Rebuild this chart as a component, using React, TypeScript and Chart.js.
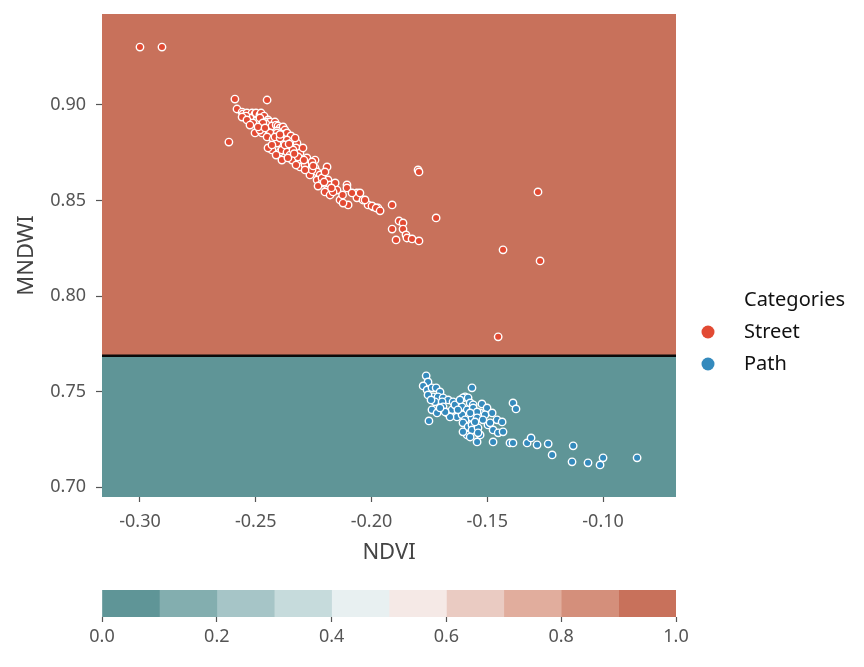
import React, { useEffect, useRef } from "react";
import { Chart, registerables } from "chart.js";

Chart.register(...registerables);

// ---------- data ----------
const streetPoints: [number, number][] = [
  [-0.3, 0.9303], [-0.2905, 0.9303], [-0.259, 0.9031], [-0.2451, 0.9026], [-0.2616, 0.8806],
  [-0.2581, 0.8979], [-0.2559, 0.8963], [-0.2555, 0.8953], [-0.2538, 0.8958], [-0.2516, 0.8958],
  [-0.2503, 0.8953], [-0.2499, 0.8958], [-0.2482, 0.8948], [-0.2477, 0.8958], [-0.2464, 0.8942],
  [-0.2482, 0.8932], [-0.2525, 0.8932], [-0.2542, 0.8942], [-0.2559, 0.8937], [-0.2538, 0.8922],
  [-0.2447, 0.8922], [-0.2451, 0.8911], [-0.2438, 0.8911], [-0.2417, 0.8911], [-0.2456, 0.8901],
  [-0.243, 0.889], [-0.2412, 0.8895], [-0.2404, 0.889], [-0.2512, 0.8906], [-0.2469, 0.8906],
  [-0.2503, 0.8854], [-0.2473, 0.8854], [-0.2482, 0.8869], [-0.2395, 0.888], [-0.2382, 0.8885],
  [-0.2374, 0.8869], [-0.2408, 0.8864], [-0.2438, 0.8854], [-0.2408, 0.8854], [-0.2382, 0.8848],
  [-0.2365, 0.8854], [-0.2348, 0.8838], [-0.2451, 0.8833], [-0.2425, 0.8822], [-0.2365, 0.8817],
  [-0.2391, 0.8801], [-0.2408, 0.8801], [-0.2343, 0.8806], [-0.2322, 0.8801], [-0.2352, 0.878],
  [-0.2326, 0.8775], [-0.243, 0.8765], [-0.2447, 0.8775], [-0.243, 0.8791], [-0.2395, 0.8754],
  [-0.2387, 0.8765], [-0.2365, 0.8754], [-0.2352, 0.8738], [-0.2309, 0.8749], [-0.2412, 0.8738],
  [-0.2387, 0.8712], [-0.2343, 0.8712], [-0.2309, 0.8702], [-0.2279, 0.8723], [-0.2274, 0.8686],
  [-0.2244, 0.8712], [-0.2244, 0.8671], [-0.2309, 0.8676], [-0.2235, 0.865], [-0.2192, 0.8676],
  [-0.2266, 0.8634], [-0.2222, 0.8634], [-0.2235, 0.8608], [-0.2188, 0.8608], [-0.2214, 0.8592],
  [-0.2179, 0.8582], [-0.2192, 0.8555], [-0.2201, 0.8545], [-0.2179, 0.8529], [-0.2149, 0.8555],
  [-0.2136, 0.8503], [-0.2106, 0.8582], [-0.2106, 0.8566], [-0.2063, 0.854], [-0.2063, 0.8514],
  [-0.2037, 0.8503], [-0.2015, 0.8477], [-0.1993, 0.8467], [-0.1972, 0.8461], [-0.2101, 0.8477],
  [-0.2123, 0.8487], [-0.205, 0.854], [-0.2028, 0.8503], [-0.1998, 0.8472], [-0.198, 0.8461],
  [-0.1963, 0.8446], [-0.1911, 0.8477], [-0.1799, 0.866], [-0.1795, 0.865], [-0.1881, 0.8393],
  [-0.1864, 0.8383], [-0.1911, 0.8351], [-0.1864, 0.8351], [-0.1851, 0.832], [-0.1847, 0.8304],
  [-0.1825, 0.8299], [-0.1894, 0.8294], [-0.1795, 0.8289], [-0.1721, 0.8409], [-0.1281, 0.8545],
  [-0.1432, 0.8242], [-0.1272, 0.8184], [-0.1453, 0.7787],
  [-0.2525, 0.8895], [-0.249, 0.8885], [-0.246, 0.888], [-0.2417, 0.8833], [-0.2395, 0.8827],
  [-0.2339, 0.8765], [-0.2317, 0.8728], [-0.2287, 0.8686], [-0.2257, 0.866], [-0.2214, 0.8618],
  [-0.2166, 0.8545], [-0.2287, 0.866], [-0.2374, 0.8791], [-0.2296, 0.8775], [-0.233, 0.8827],
  [-0.2257, 0.8702], [-0.2201, 0.865], [-0.2157, 0.8592], [-0.2084, 0.854], [-0.2231, 0.8576],
  [-0.2361, 0.8723], [-0.2326, 0.8686], [-0.2395, 0.8846], [-0.2356, 0.8796], [-0.2334, 0.8745],
  [-0.2292, 0.8712], [-0.2252, 0.8681], [-0.2205, 0.8597], [-0.2173, 0.8566], [-0.2125, 0.8529],
];

const pathPoints: [number, number][] = [
  [-0.1764, 0.7583], [-0.1756, 0.7551], [-0.1777, 0.753], [-0.176, 0.7509], [-0.1739, 0.752],
  [-0.1721, 0.752], [-0.1704, 0.7499], [-0.1734, 0.7473], [-0.1713, 0.7473], [-0.1691, 0.7468],
  [-0.1669, 0.7457], [-0.1648, 0.7447], [-0.1726, 0.7447], [-0.1695, 0.7447], [-0.1739, 0.7405],
  [-0.1717, 0.7389], [-0.1691, 0.7421], [-0.1674, 0.7389], [-0.1652, 0.7405], [-0.1631, 0.7368],
  [-0.1661, 0.7368], [-0.1752, 0.7347], [-0.1566, 0.752], [-0.1596, 0.7473], [-0.1605, 0.7468],
  [-0.1583, 0.7468], [-0.1574, 0.7441], [-0.1561, 0.7431], [-0.1609, 0.7421], [-0.1587, 0.7405],
  [-0.1561, 0.7415], [-0.1523, 0.7436], [-0.1501, 0.7415], [-0.1531, 0.7389], [-0.1544, 0.7394],
  [-0.1479, 0.7389], [-0.1609, 0.7379], [-0.1596, 0.7353], [-0.1566, 0.7363], [-0.1544, 0.7363],
  [-0.1605, 0.7337], [-0.1583, 0.7316], [-0.1566, 0.7326], [-0.1587, 0.7274], [-0.1566, 0.73],
  [-0.154, 0.7311], [-0.1531, 0.7274], [-0.1544, 0.7237], [-0.154, 0.7285], [-0.1605, 0.729],
  [-0.1497, 0.7326], [-0.1475, 0.73], [-0.1458, 0.7353], [-0.1436, 0.7342], [-0.1488, 0.7337],
  [-0.1453, 0.7285], [-0.1432, 0.729], [-0.1475, 0.7237], [-0.1389, 0.7441], [-0.1376, 0.741],
  [-0.1402, 0.7232], [-0.1389, 0.7232], [-0.1328, 0.7232], [-0.1311, 0.7258], [-0.1285, 0.7222],
  [-0.1237, 0.7227], [-0.122, 0.7169], [-0.1129, 0.7217], [-0.1134, 0.7133], [-0.1065, 0.7128],
  [-0.1, 0.7154], [-0.1013, 0.7117], [-0.0853, 0.7154],
  [-0.164, 0.7431], [-0.1627, 0.7405], [-0.1682, 0.7394], [-0.1704, 0.7415], [-0.1756, 0.7483],
  [-0.1743, 0.7457], [-0.1618, 0.7457], [-0.1574, 0.7389], [-0.1553, 0.7342], [-0.151, 0.7379],
  [-0.1519, 0.7353], [-0.1574, 0.7263],
];

const categoryLabels = ["Street", "Path"];
const categoryColors = ["#e24a33", "#348abd"];
const legendTitle = "Categories";
const xTitle = "NDVI";
const yTitle = "MNDWI";

// decision regions
const decisionBoundary = 0.7688; // MNDWI value where predicted class changes
const regionColors = { above: "#c8715b", below: "#5f9597" };

// colour bar
const colorbarEdges = [0, 0.1, 0.2, 0.3, 0.4, 0.5, 0.6, 0.7, 0.8, 0.9, 1.0];
const colorbarColors = [
  "#5f9597", "#83aeaf", "#a6c5c7", "#c6dbdc", "#e8f0f1",
  "#f5e9e6", "#eacbc2", "#e1ad9d", "#d48f7b", "#c8715b",
];

const xRange = [-0.3164, -0.0685];
const yRange = [0.6949, 0.9476];

const FONT = "'Noto Sans', 'DejaVu Sans', sans-serif";
const TICK_COLOR = "#555555";

export default function App() {
  const mainRef = useRef<HTMLCanvasElement | null>(null);
  const cbRef = useRef<HTMLCanvasElement | null>(null);

  useEffect(() => {
    if (!mainRef.current || !cbRef.current) return;

    const bgPlugin = {
      id: "regions",
      beforeDatasetsDraw(chart: any) {
        const { ctx, chartArea, scales } = chart;
        const yb = scales.y.getPixelForValue(decisionBoundary);
        ctx.save();
        ctx.fillStyle = regionColors.above;
        ctx.fillRect(chartArea.left, chartArea.top, chartArea.right - chartArea.left, yb - chartArea.top);
        ctx.fillStyle = regionColors.below;
        ctx.fillRect(chartArea.left, yb, chartArea.right - chartArea.left, chartArea.bottom - yb);
        ctx.strokeStyle = "#0a0a0a";
        ctx.lineWidth = 2.5;
        ctx.beginPath();
        ctx.moveTo(chartArea.left, yb);
        ctx.lineTo(chartArea.right, yb);
        ctx.stroke();
        ctx.restore();
      },
    };

    const legendPlugin = {
      id: "customLegend",
      afterDraw(chart: any) {
        const { ctx } = chart;
        ctx.save();
        ctx.textBaseline = "middle";
        ctx.textAlign = "left";
        ctx.fillStyle = "#111";
        ctx.font = `20px ${FONT}`;
        ctx.fillText(legendTitle, 744, 300);
        categoryLabels.forEach((lab, i) => {
          const cy = 332 + i * 32;
          ctx.beginPath();
          ctx.fillStyle = categoryColors[i];
          ctx.arc(708, cy, 6.5, 0, Math.PI * 2);
          ctx.fill();
          ctx.fillStyle = "#111";
          ctx.fillText(lab, 744, cy);
        });
        ctx.restore();
      },
    };

    const main = new Chart(mainRef.current, {
      type: "scatter",
      data: {
        datasets: [
          {
            label: categoryLabels[0],
            data: streetPoints.map(([x, y]) => ({ x, y })),
            backgroundColor: categoryColors[0],
            borderColor: "#ffffff",
            borderWidth: 1.4,
            pointRadius: 3.7,
            pointHoverRadius: 3.7,
          },
          {
            label: categoryLabels[1],
            data: pathPoints.map(([x, y]) => ({ x, y })),
            backgroundColor: categoryColors[1],
            borderColor: "#ffffff",
            borderWidth: 1.4,
            pointRadius: 3.7,
            pointHoverRadius: 3.7,
          },
        ],
      },
      options: {
        responsive: false,
        animation: false,
        events: [],
        layout: { padding: { left: 0, right: 188, top: 14, bottom: 100 } },
        plugins: { legend: { display: false }, tooltip: { enabled: false } },
        scales: {
          x: {
            type: "linear",
            min: xRange[0],
            max: xRange[1],
            border: { display: false },
            grid: { drawOnChartArea: false, tickLength: 5, tickColor: TICK_COLOR, tickWidth: 1.2 },
            ticks: {
              stepSize: 0.05,
              includeBounds: false,
              color: TICK_COLOR,
              font: { size: 18, family: FONT },
              padding: 9,
              callback: (v: any) => Number(v).toFixed(2),
            },
            title: {
              display: true,
              text: xTitle,
              color: "#444",
              font: { size: 22, family: FONT },
              padding: { top: 2, bottom: 1 },
            },
            afterFit: (s: any) => {
              s.height = 70;
              s.paddingLeft = 0;
              s.paddingRight = 0;
            },
          },
          y: {
            type: "linear",
            min: yRange[0],
            max: yRange[1],
            border: { display: false },
            grid: { drawOnChartArea: false, tickLength: 6, tickColor: TICK_COLOR, tickWidth: 1.2 },
            ticks: {
              stepSize: 0.05,
              includeBounds: false,
              color: TICK_COLOR,
              font: { size: 18, family: FONT },
              padding: 10,
              callback: (v: any) => Number(v).toFixed(2),
            },
            title: {
              display: true,
              text: yTitle,
              color: "#444",
              font: { size: 22, family: FONT },
              padding: { top: 14, bottom: 0 },
            },
            afterFit: (s: any) => {
              s.width = 102;
              s.paddingTop = 0;
              s.paddingBottom = 0;
            },
          },
        },
      },
      plugins: [bgPlugin, legendPlugin],
    } as any);

    const cb = new Chart(cbRef.current, {
      type: "bar",
      data: {
        labels: ["colorbar"],
        datasets: colorbarColors.map((c, i) => ({
          data: [[colorbarEdges[i], colorbarEdges[i + 1]]],
          backgroundColor: c,
          borderWidth: 0,
          barPercentage: 1,
          categoryPercentage: 1,
        })),
      },
      options: {
        indexAxis: "y",
        responsive: false,
        animation: false,
        events: [],
        layout: { padding: { left: 102, right: 188, top: 10, bottom: 0 } },
        plugins: { legend: { display: false }, tooltip: { enabled: false } },
        scales: {
          x: {
            type: "linear",
            min: 0,
            max: 1,
            border: { display: false },
            grid: { drawOnChartArea: false, tickLength: 5, tickColor: TICK_COLOR, tickWidth: 1.2 },
            ticks: {
              stepSize: 0.2,
              color: TICK_COLOR,
              font: { size: 18, family: FONT },
              padding: 4,
              callback: (v: any) => Number(v).toFixed(1),
            },
            afterFit: (s: any) => {
              s.height = 50;
            },
          },
          y: { display: false, stacked: true },
        },
      },
    } as any);

    return () => {
      main.destroy();
      cb.destroy();
    };
  }, []);

  return (
    <div style={{ position: "absolute", left: 0, top: 0, width: 864, height: 667, background: "#fff" }}>
      <canvas ref={mainRef} width={864} height={667} style={{ position: "absolute", left: 0, top: 0 }} />
      <canvas ref={cbRef} width={864} height={87} style={{ position: "absolute", left: 0, top: 580 }} />
    </div>
  );
}
